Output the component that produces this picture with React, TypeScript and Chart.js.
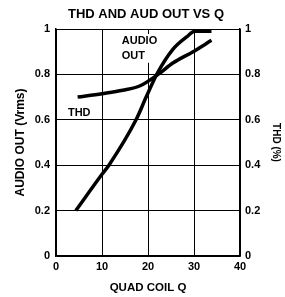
import React, { useEffect, useRef } from "react";
import { Chart, registerables } from "chart.js";

Chart.register(...registerables);

const audioQ = [4.3, 10, 11.5, 17.4, 19.6, 21.9, 25.4, 28.4, 30.2, 33.8];
const audioOut = [0.2, 0.36, 0.4, 0.6, 0.7, 0.8, 0.91, 0.965, 0.99, 0.99];
const thdQ = [4.7, 10, 14.5, 18.3, 22.2, 25.4, 29.8, 33.8];
const thdVal = [0.7, 0.715, 0.73, 0.75, 0.8, 0.85, 0.9, 0.95];

const titleText = "THD AND AUD OUT VS Q";
const xTitle = "QUAD COIL Q";
const yTitle = "AUDIO OUT (Vrms)";
const y2Title = "THD (%)";
const xTicks = [0, 10, 20, 30, 40];
const yTicks = [0, 0.2, 0.4, 0.6, 0.8, 1];

const FONT = "'Liberation Sans', Arial, sans-serif";

const labelsPlugin = {
  id: "labelsPlugin",
  afterDraw(chart: any) {
    const ctx = chart.ctx;
    const xs = chart.scales.x;
    const ys = chart.scales.y;
    ctx.save();
    ctx.fillStyle = "#000";
    ctx.font = `bold 13px ${FONT}`;
    ctx.textAlign = "center";
    ctx.textBaseline = "middle";
    ctx.fillText(titleText, 146, 14.5);
    ctx.font = `bold 11px ${FONT}`;
    ctx.textAlign = "left";
    const ax = xs.getPixelForValue(14.3);
    const ay1 = ys.getPixelForValue(0.947);
    const ay2 = ys.getPixelForValue(0.882);
    ctx.fillStyle = "#fff";
    ctx.fillRect(ax - 2, ay1 - 7, 40, ay2 - ay1 + 14);
    ctx.fillStyle = "#000";
    ctx.fillText("AUDIO", ax, ay1);
    ctx.fillText("OUT", ax, ay2);
    const tx = xs.getPixelForValue(2.6);
    const ty = ys.getPixelForValue(0.63);
    ctx.fillText("THD", tx, ty);
    ctx.restore();
  },
};

export default function App() {
  const ref = useRef<HTMLCanvasElement>(null);
  useEffect(() => {
    if (!ref.current) return;
    const tickFont = { family: FONT, size: 11, weight: "bold" as const };
    const fmt = (v: any) => String(v);
    const chart = new Chart(ref.current, {
      type: "line",
      data: {
        datasets: [
          {
            label: "AUDIO OUT",
            data: audioQ.map((q, i) => ({ x: q, y: audioOut[i] })),
            borderColor: "#000",
            borderWidth: 3.5,
            pointRadius: 0,
            cubicInterpolationMode: "monotone",
            yAxisID: "y",
          },
          {
            label: "THD",
            data: thdQ.map((q, i) => ({ x: q, y: thdVal[i] })),
            borderColor: "#000",
            borderWidth: 3.5,
            pointRadius: 0,
            cubicInterpolationMode: "monotone",
            yAxisID: "y2",
          },
        ],
      },
      options: {
        responsive: false,
        animation: false,
        devicePixelRatio: 1,
        layout: { padding: { top: 29, left: 0, right: 0, bottom: 0 } },
        plugins: { legend: { display: false }, tooltip: { enabled: false }, title: { display: false } },
        scales: {
          x: {
            type: "linear",
            min: 0,
            max: 40,
            afterBuildTicks: (s: any) => { s.ticks = xTicks.map((v) => ({ value: v })); },
            afterFit: (s: any) => { s.height = 41; },
            grid: { color: "#000", lineWidth: 1, drawTicks: false },
            border: { color: "#000", width: 1.5 },
            ticks: { color: "#000", font: tickFont, padding: 4, maxRotation: 0, callback: fmt },
            title: { display: true, text: xTitle, color: "#000", font: { family: FONT, size: 11.5, weight: "bold" }, padding: { top: 0, bottom: 2 } },
          },
          y: {
            type: "linear",
            position: "left",
            min: 0,
            max: 1,
            afterBuildTicks: (s: any) => { s.ticks = yTicks.map((v) => ({ value: v })); },
            afterFit: (s: any) => { s.width = 56; },
            grid: { color: "#000", lineWidth: 1, drawTicks: false },
            border: { color: "#000", width: 1.5 },
            ticks: { color: "#000", font: tickFont, padding: 6, callback: fmt },
            title: { display: true, text: yTitle, color: "#000", font: { family: FONT, size: 12, weight: "bold" }, padding: { top: 13, bottom: 0 } },
          },
          y2: {
            type: "linear",
            position: "right",
            min: 0,
            max: 1,
            afterBuildTicks: (s: any) => { s.ticks = yTicks.map((v) => ({ value: v })); },
            afterFit: (s: any) => { s.width = 45; },
            grid: { display: false, drawTicks: false },
            border: { color: "#000", width: 1.5 },
            ticks: { color: "#000", font: tickFont, padding: 5, callback: fmt },
            title: { display: true, text: y2Title, color: "#000", font: { family: FONT, size: 10, weight: "bold" }, padding: { top: 3, bottom: 0 } },
          },
        },
      },
      plugins: [labelsPlugin],
    } as any);
    return () => chart.destroy();
  }, []);
  return (
    <div style={{ position: "absolute", left: 0, top: 0, width: 285, height: 297, background: "#fff" }}>
      <canvas ref={ref} width={285} height={297} />
    </div>
  );
}
